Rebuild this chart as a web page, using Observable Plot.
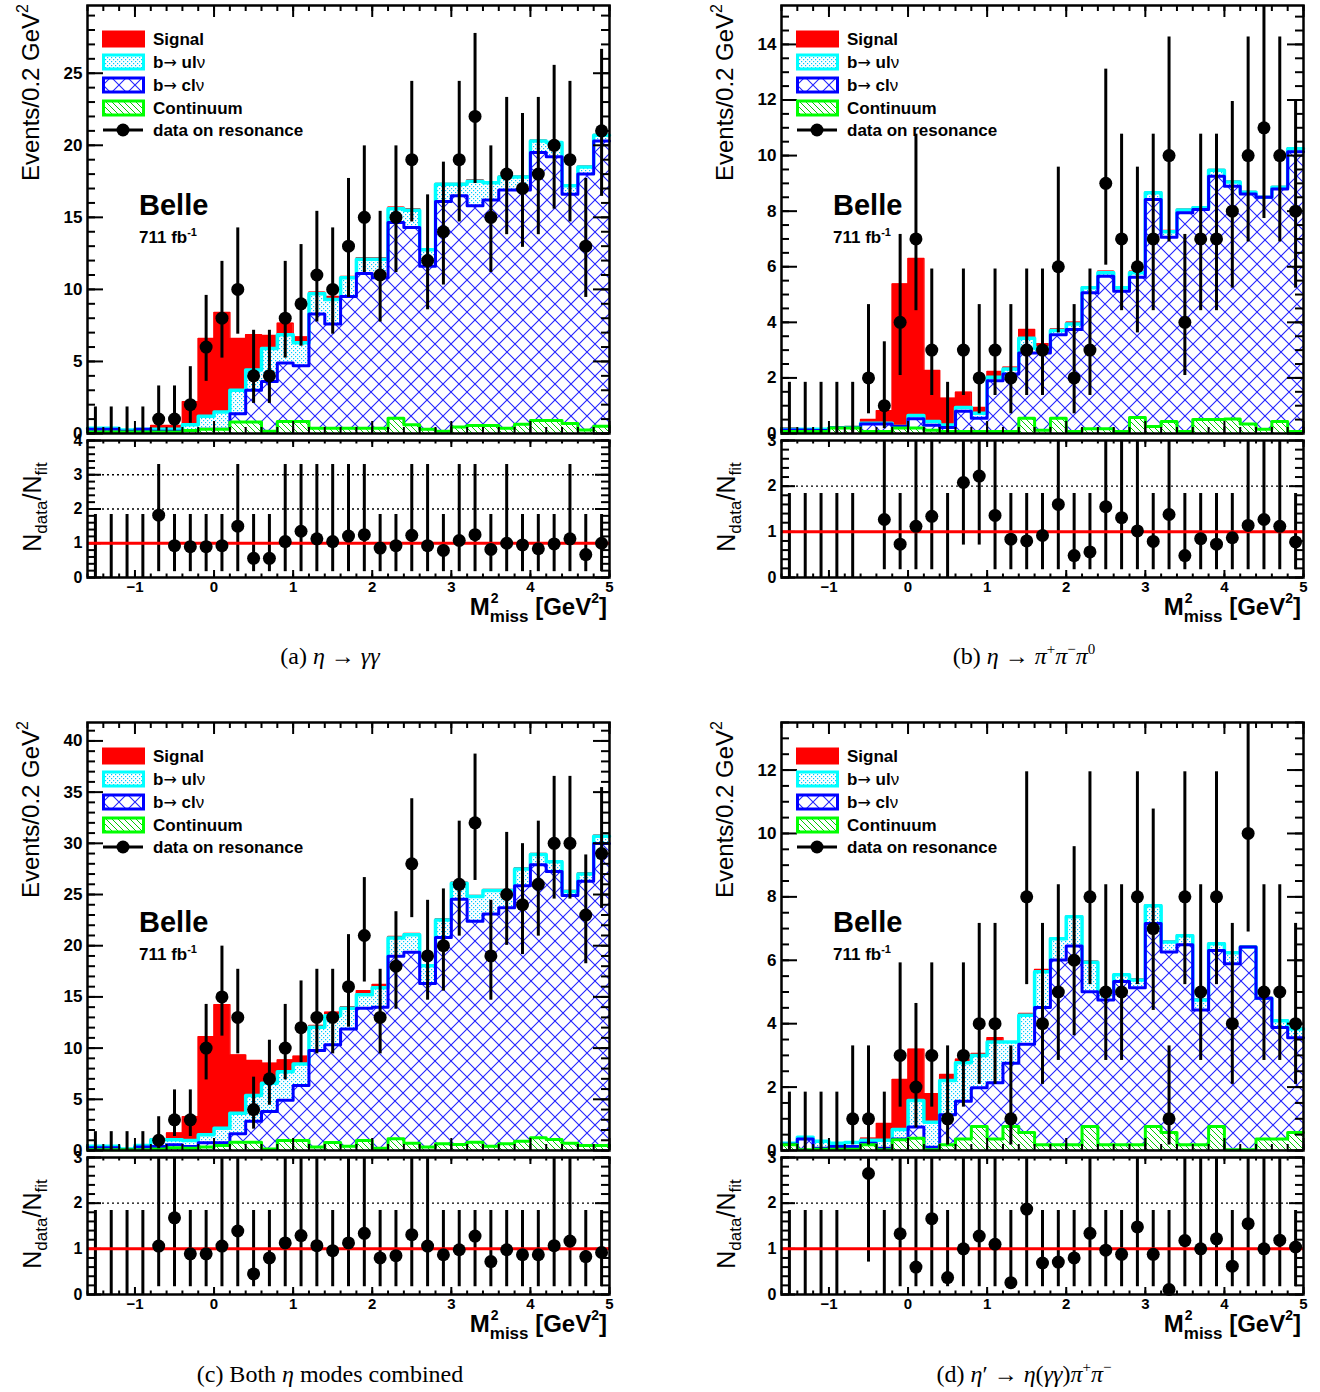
<!DOCTYPE html>
<html><head><meta charset="utf-8"><title>Belle M2miss fits</title>
<script src="https://cdn.jsdelivr.net/npm/d3@7"></script>
<script src="https://cdn.jsdelivr.net/npm/@observablehq/plot@0.6"></script>
<style>
html,body{margin:0;padding:0;background:#fff;}
#root{position:relative;width:1320px;height:1392px;overflow:hidden;background:#fff;}
.t{position:absolute;white-space:nowrap;font-family:'Liberation Sans',Arial,Helvetica,sans-serif;color:#000;}
.ytitle{font-size:24px;line-height:30px;height:30px;width:300px;text-align:right;transform-origin:0 0;transform:rotate(-90deg);}
.rtitle{font-size:25px;line-height:30px;height:30px;width:200px;text-align:center;transform-origin:0 0;transform:rotate(-90deg);}
.xtitle{font-size:24px;line-height:24px;font-weight:bold;width:400px;text-align:right;}
.belle{font-size:29px;line-height:29px;font-weight:bold;}
.lumi{font-size:17px;line-height:17px;font-weight:bold;}
.cap{font-family:'Liberation Serif','Times New Roman',serif;font-size:24px;line-height:30px;height:30px;width:600px;text-align:center;}
.cap sup{font-size:15px;line-height:0;vertical-align:10px;}
.ss{display:inline-block;position:relative;font-size:17px;line-height:17px;vertical-align:-7px;}
.ss .sp{position:absolute;left:1px;top:-17px;font-size:14px;line-height:14px;}
</style></head>
<body>
<svg width="0" height="0" style="position:absolute;left:0;top:0">
<defs>
<pattern id="patCl" patternUnits="userSpaceOnUse" width="16" height="16">
<path d="M-2,-2L18,18M18,-2L-2,18" stroke="#2222ff" stroke-width="1.1" fill="none"/>
</pattern>
<pattern id="patUl" patternUnits="userSpaceOnUse" width="4" height="4">
<rect x="0" y="0" width="1.2" height="1.2" fill="#00c8ff"/>
<rect x="2" y="2" width="1.2" height="1.2" fill="#00c8ff"/>
</pattern>
<pattern id="patCont" patternUnits="userSpaceOnUse" width="6" height="6">
<path d="M-1,-1L7,7M-1,5L1,7M5,-1L7,1" stroke="#00cc00" stroke-width="1" fill="none"/>
</pattern>
</defs>
</svg>
<div id="root"></div>
<script>
// ---------- bins ----------
const binEdges = [-1.6,-1.4,-1.2,-1.0,-0.8,-0.6,-0.4,-0.2,0.0,0.2,0.4,0.6,0.8,1.0,1.2,1.4,1.6,1.8,2.0,2.2,2.4,2.6,2.8,3.0,3.2,3.4,3.6,3.8,4.0,4.2,4.4,4.6,4.8,5.0];
const binCenter = [-1.5,-1.3,-1.1,-0.9,-0.7,-0.5,-0.3,-0.1,0.1,0.3,0.5,0.7,0.9,1.1,1.3,1.5,1.7,1.9,2.1,2.3,2.5,2.7,2.9,3.1,3.3,3.5,3.7,3.9,4.1,4.3,4.5,4.7,4.9];
const xTickLabels = [-1,0,1,2,3,4,5];

// ---------- (a) eta -> gamma gamma ----------
const aData = [0,0,0,0,1,1,2,6,8,10,4,4,8,9,11,10,13,15,11,15,19,12,14,19,22,15,18,17,18,20,19,13,21];
const aCont = [0.1,0.1,0.1,0.1,0.1,0.1,0.2,0.3,0.3,0.8,0.8,0.15,0.83,0.83,0.37,0.37,0.37,0.37,0.37,1.06,0.6,0.3,0.15,0.45,0.55,0.55,0.37,0.65,0.9,0.9,0.7,0.25,0.5];
const aCl = [0.2,0.2,0.05,0.2,0.05,0.05,0,0,0,0.57,2.2,3.45,4.07,3.87,7.93,7.23,9.13,10.73,10.43,13.59,13.7,11.3,15.95,16.05,15.25,15.65,16.53,16.25,18.6,18.3,15.9,17.75,19.8];
const aUl = [0.07,0.07,0.1,0,0.15,0.15,0.4,0.9,1.2,1.63,1.4,2.3,1.95,1.6,1.4,1.7,1.3,1.0,1.3,0.95,1.2,1.15,1.2,0.8,1.7,1.2,0.9,0.9,0.8,1.0,0.6,0.5,0.4];
const aSig = [0,0,0,0,0.25,0.25,1.6,5.4,6.9,3.6,2.45,0.9,0.8,0.4,0.1,0.2,0.1,0.1,0.1,0.1,0.1,0.05,0.05,0.05,0.1,0.05,0.05,0.05,0.05,0.05,0.05,0.05,0.05];
const aRatio = [null,null,null,null,1.82,0.93,0.9,0.9,0.93,1.5,0.56,0.56,1.05,1.35,1.13,1.05,1.21,1.25,0.86,0.93,1.23,0.93,0.79,1.08,1.25,0.82,1.0,0.95,0.84,0.98,1.13,0.67,1.0];
const aRatioBar = "eeeebaaaabaabbbbbbaabbabbabaaabaa";

// ---------- (b) eta -> pi+ pi- pi0 ----------
const bData = [0,0,0,0,0,2,1,4,7,3,0,3,2,3,2,3,3,6,2,3,9,7,6,7,10,4,7,7,8,10,11,10,8];
const bCont = [0.07,0.07,0.07,0.2,0.2,0.07,0.07,0.2,0.2,0.12,0.07,0.07,0.07,0.07,0.07,0.55,0.12,0.55,0.07,0.17,0.17,0.07,0.58,0.25,0.43,0.07,0.5,0.5,0.52,0.34,0.15,0.43,0.07];
const bCl = [0.06,0.06,0.04,0,0,0.27,0.27,0.05,0.33,0.18,0.15,0.73,0.48,1.83,2.07,2.35,2.78,3.0,3.67,4.89,5.49,5.05,5.04,8.17,6.63,7.87,7.56,8.76,8.38,8.28,8.35,8.37,10.07];
const bUl = [0.02,0.02,0.04,0,0.02,0.03,0.03,0,0.12,0.13,0.09,0.14,0.18,0.12,0.18,0.53,0.17,0.16,0.2,0.18,0.12,0.12,0.16,0.24,0.2,0.1,0.06,0.21,0.15,0.06,0,0.06,0.11];
const bSig = [0.05,0.01,0,0.04,0.03,0.13,0.45,5.13,5.65,1.84,0.96,0.54,0.21,0.21,0.06,0.31,0.16,0.05,0.06,0.03,0.06,0.03,0.06,0.04,0.04,0.03,0.03,0.03,0.03,0.03,0.03,0.03,0.03];
const bRatio = [null,null,null,null,null,null,1.27,0.73,1.12,1.34,null,2.08,2.22,1.36,0.84,0.8,0.92,1.6,0.48,0.56,1.55,1.31,1.02,0.79,1.38,0.48,0.85,0.73,0.87,1.14,1.27,1.12,0.78];
const bRatioBar = "eeeeenbabbeccbaaabaabbbabaaaabbba";

// ---------- (c) both eta modes ----------
const cData = [0,0,0,0,1,3,3,10,15,13,4,7,10,12,13,13,16,21,13,18,28,19,20,26,32,19,25,24,26,30,30,23,29];
const cCont = [0.07,0.07,0.07,0.07,0.15,0.26,0.23,0.33,0.5,0.8,0.8,0.15,0.98,0.98,0.33,0.78,0.42,0.98,0.23,1.14,0.72,0.33,0.65,0.59,0.81,0.42,0.65,0.91,1.24,1.07,0.72,0.49,0.49];
const cCl = [0.19,0.19,0.03,0.26,0.25,0.29,0.17,0.42,0.25,0.83,2.06,3.65,3.92,5.36,9.43,9.56,11.45,12.92,13.77,17.82,18.63,15.97,20.15,23.96,21.59,22.68,23.05,24.94,26.66,26.18,24.18,25.81,29.49];
const cUl = [0.16,0.16,0.05,0.15,0.64,0.49,0.58,0.78,1.43,2.01,2.51,2.77,2.8,2.11,2.27,2.83,2.03,1.3,1.9,1.79,1.72,1.75,1.7,1.55,2.4,2.3,1.7,1.65,1.0,0.95,0.4,0.7,0.72];
const cSig = [0,0,0,0,0.1,0.66,2.32,9.57,12.06,5.69,3.41,1.95,1.15,0.75,0.17,0.33,0.15,0.4,0.3,0.15,0.13,0.1,0.1,0.1,0.1,0.1,0.1,0.1,0.1,0.1,0.1,0.1,0.1];
const cRatio = [null,null,null,null,1.06,1.68,0.89,0.89,1.06,1.39,0.45,0.8,1.13,1.29,1.07,0.96,1.13,1.34,0.8,0.85,1.31,1.06,0.87,0.98,1.28,0.72,0.98,0.87,0.87,1.07,1.17,0.83,0.92];
const cRatioBar = "eeeebbaabbaabbbabbaabbaaaaaaabbaa";

// ---------- (d) eta' -> eta(gg) pi+ pi- ----------
const dData = [0,0,0,0,1,1,0,3,2,3,1,3,4,4,1,8,4,5,6,8,5,5,8,7,1,8,5,8,4,10,5,5,4];
const dCont = [0.18,0.02,0.04,0.04,0.04,0.18,0.02,0.34,0.39,0.02,0.18,0.36,0.76,0.36,0.76,0.57,0.18,0.18,0.18,0.76,0.18,0.18,0.18,0.76,0.57,0.18,0.18,0.76,0.02,0.02,0.36,0.36,0.57];
const dCl = [0.02,0.34,0.03,0.09,0.09,0.05,0.05,0.02,0.35,0.08,0.95,1.19,1.22,1.78,1.99,2.78,4.33,5.83,6.27,4.25,4.57,5.15,4.95,6.4,5.69,6.31,4.25,5.55,5.87,6.4,4.44,3.52,2.99];
const dUl = [0.03,0.06,0.22,0.1,0.12,0.09,0.25,0.3,0.84,0.79,1.08,1.22,1.02,1.28,0.67,0.92,1.13,0.67,0.92,0.93,0.26,0.21,0.25,0.56,0.32,0.28,0.32,0.21,0.35,0,0,0.21,0.27];
const dSig = [0,0,0,0,0.02,0.07,0.53,1.58,1.61,0.9,0.19,0.11,0.06,0.14,0,0.05,0.07,0.03,0.03,0.03,0.04,0.02,0.03,0.03,0.02,0.03,0.02,0.03,0.03,0.03,0.03,0.03,0.03];
const dRatio = [null,null,null,null,null,2.65,null,1.33,0.6,1.66,0.37,1.0,1.28,1.1,0.26,1.87,0.69,0.71,0.8,1.34,0.97,0.88,1.48,0.88,0.11,1.18,1.0,1.22,0.62,1.55,1.0,1.19,1.04];
const dRatioBar = "eeeencebbbabbbabaaabaabaebbbabbba";

// ratio-panel error-bar extents as drawn (e: empty bin, a/b/c: lower..upper)
const ratioBarLevels = {e:[0,1.84], a:[0.17,1.84], b:[0.17,3.30], c:[0.71,4.64]};

// ---------- panel layout ----------
const panels = [
  {data:aData, cont:aCont, cl:aCl, ul:aUl, sig:aSig, ratio:aRatio, rbar:aRatioBar, ymax:29.7, yMajorStep:5, yMinorStep:1, rmax:4,
   fx:87, ty:5, ry:440, capX:330, capY:656, caption:'(a) <i>η</i> → <i>γγ</i>'},
  {data:bData, cont:bCont, cl:bCl, ul:bUl, sig:bSig, ratio:bRatio, rbar:bRatioBar, ymax:15.4, yMajorStep:2, yMinorStep:0.5, rmax:3,
   fx:781, ty:5, ry:440, capX:1024, capY:656, caption:'(b) <i>η</i> → <i>π</i><sup>+</sup><i>π</i><sup>−</sup><i>π</i><sup>0</sup>'},
  {data:cData, cont:cCont, cl:cCl, ul:cUl, sig:cSig, ratio:cRatio, rbar:cRatioBar, ymax:41.8, yMajorStep:5, yMinorStep:1, rmax:3,
   fx:87, ty:722, ry:1157, capX:330, capY:1374, caption:'(c) Both <i>η</i> modes combined'},
  {data:dData, cont:dCont, cl:dCl, ul:dUl, sig:dSig, ratio:dRatio, rbar:dRatioBar, ymax:13.5, yMajorStep:2, yMinorStep:0.5, rmax:3,
   fx:781, ty:722, ry:1157, capX:1024, capY:1374, caption:'(d) <i>η</i>′ → <i>η</i>(<i>γγ</i>)<i>π</i><sup>+</sup><i>π</i><sup>−</sup>'}
];

const FONT = "'Liberation Sans', Arial, Helvetica, sans-serif";
const W = 522, TH = 428, RH = 137, ML = 60, MR = 15;
const root = document.getElementById("root");
const fmtInt = d => (d < 0 ? "\u2212" + Math.abs(d) : String(d));

// Garwood (central 68.27%) Poisson interval for a count n
function poisCdf(k, lam) { let term = Math.exp(-lam), s = term; for (let j = 1; j <= k; j++) { term *= lam / j; s += term; } return s; }
function garwood(n) {
  const a = (1 - 0.682689492) / 2;
  let lo = 0;
  if (n > 0) { let L = 0, H = n + 10 * Math.sqrt(n) + 10; for (let it = 0; it < 80; it++) { const m = (L + H) / 2; if (poisCdf(n - 1, m) > 1 - a) L = m; else H = m; } lo = (L + H) / 2; }
  let L = 0, H = n + 10 * Math.sqrt(n) + 10; for (let it = 0; it < 80; it++) { const m = (L + H) / 2; if (poisCdf(n, m) > a) L = m; else H = m; }
  return [lo, (L + H) / 2];
}

function steps(lo, hi, step) { const n = Math.round((hi - lo) / step); return d3.range(n + 1).map(k => +(lo + k * step).toFixed(4)); }

function tickMarks(xMajor, xMinor, yMajor, yMinor, innerH, xMaj, xMin, yMaj, yMin) {
  const s = {stroke: "black", strokeWidth: 2};
  return [
    Plot.ruleX(xMinor, {x: d => d, insetTop: innerH - xMin, ...s}),
    Plot.ruleX(xMinor, {x: d => d, insetBottom: innerH - xMin, ...s}),
    Plot.ruleX(xMajor, {x: d => d, insetTop: innerH - xMaj, ...s}),
    Plot.ruleX(xMajor, {x: d => d, insetBottom: innerH - xMaj, ...s}),
    Plot.ruleY(yMinor, {y: d => d, insetRight: W - yMin, ...s}),
    Plot.ruleY(yMinor, {y: d => d, insetLeft: W - yMin, ...s}),
    Plot.ruleY(yMajor, {y: d => d, insetRight: W - yMaj, ...s}),
    Plot.ruleY(yMajor, {y: d => d, insetLeft: W - yMaj, ...s})
  ];
}

function place(el, left, top) { el.style.position = "absolute"; el.style.left = left + "px"; el.style.top = top + "px"; root.appendChild(el); }
function div(cls, html, left, top) { const e = document.createElement("div"); e.className = "t " + cls; e.innerHTML = html; place(e, left, top); return e; }

const xMinor = steps(-1.6, 5.0, 0.2);

panels.forEach(P => {
  // stacked histogram levels
  const rows = binEdges.map((x, k) => {
    const i = Math.min(k, 32);
    const g = P.cont[i], b = g + P.cl[i], c = b + P.ul[i], r = c + P.sig[i];
    return {x, g, b, c, r};
  });
  const pts = binCenter.map((x, i) => { const n = P.data[i]; const [lo, hi] = garwood(n); return {x, n, lo, hi}; });
  const yMajor = steps(0, Math.floor(P.ymax / P.yMajorStep) * P.yMajorStep, P.yMajorStep);
  const yMinor = steps(0, Math.floor(P.ymax / P.yMinorStep) * P.yMinorStep, P.yMinorStep);
  const MT = 5, MB = 10;
  const st = {x: "x", curve: "step-after"};
  const top = Plot.plot({
    width: ML + W + MR, height: MT + TH + MB, marginLeft: ML, marginRight: MR, marginTop: MT, marginBottom: MB,
    x: {domain: [-1.6, 5], axis: null},
    y: {domain: [0, P.ymax], label: null},
    style: {fontFamily: FONT, fontWeight: "bold", fontSize: "17px", overflow: "visible", background: "transparent"},
    marks: [
      Plot.areaY(rows, {...st, y1: 0, y2: "r", fill: "#ff0000"}),
      Plot.lineY(rows, {...st, y: "r", stroke: "#ff0000", strokeWidth: 1.5}),
      Plot.areaY(rows, {...st, y1: 0, y2: "c", fill: "white"}),
      Plot.areaY(rows, {...st, y1: "b", y2: "c", fill: "url(#patUl)"}),
      Plot.lineY(rows, {...st, y: "c", stroke: "#00ffff", strokeWidth: 3.5}),
      Plot.areaY(rows, {...st, y1: 0, y2: "b", fill: "url(#patCl)"}),
      Plot.lineY(rows, {...st, y: "b", stroke: "#0000ff", strokeWidth: 3}),
      Plot.areaY(rows, {...st, y1: 0, y2: "g", fill: "white"}),
      Plot.areaY(rows, {...st, y1: 0, y2: "g", fill: "url(#patCont)"}),
      Plot.lineY(rows, {...st, y: "g", stroke: "#00ff00", strokeWidth: 3}),
      ...tickMarks(xTickLabels, xMinor, yMajor, yMinor, TH, 12, 6, 16, 8),
      Plot.frame({stroke: "black", strokeWidth: 2.5}),
      Plot.ruleX(pts, {x: "x", y1: "lo", y2: "hi", stroke: "black", strokeWidth: 3, clip: true}),
      Plot.dot(pts.filter(d => d.n > 0), {x: "x", y: "n", r: 6.5, fill: "black"}),
      Plot.axisY({ticks: yMajor, tickSize: 0, tickPadding: 5, label: null, tickFormat: fmtInt, fontSize: 17, fontWeight: "bold"})
    ]
  });
  place(top, P.fx - ML, P.ty - MT);

  // ratio panel
  const RMT = 5, RMB = 30;
  const rpts = binCenter.map((x, i) => ({x, r: P.ratio[i], code: P.rbar[i]}));
  const bars = rpts.filter(d => ratioBarLevels[d.code]).map(d => ({x: d.x, lo: ratioBarLevels[d.code][0], hi: ratioBarLevels[d.code][1]}));
  const rMajor = steps(0, P.rmax, 1);
  const rMinor = steps(0, P.rmax, 0.2);
  const ratio = Plot.plot({
    width: ML + W + MR, height: RMT + RH + RMB, marginLeft: ML, marginRight: MR, marginTop: RMT, marginBottom: RMB,
    x: {domain: [-1.6, 5], label: null},
    y: {domain: [0, P.rmax], label: null},
    style: {fontFamily: FONT, fontWeight: "bold", fontSize: "15px", overflow: "visible", background: "transparent"},
    marks: [
      Plot.ruleY([2, 3].filter(v => v < P.rmax), {y: d => d, stroke: "black", strokeWidth: 1.3, strokeDasharray: "2,3"}),
      ...tickMarks(xTickLabels, xMinor, rMajor, rMinor, RH, 7, 3.5, 14, 8),
      Plot.ruleX(bars, {x: "x", y1: "lo", y2: "hi", stroke: "black", strokeWidth: 3, clip: true}),
      Plot.ruleY([1], {y: d => d, stroke: "#ff0000", strokeWidth: 3}),
      Plot.frame({stroke: "black", strokeWidth: 2.5}),
      Plot.dot(rpts.filter(d => d.r != null), {x: "x", y: "r", r: 6.5, fill: "black"}),
      Plot.axisX({ticks: xTickLabels, tickSize: 0, tickPadding: 4, label: null, tickFormat: fmtInt, fontSize: 15, fontWeight: "bold"}),
      Plot.axisY({ticks: rMajor, tickSize: 0, tickPadding: 5, label: null, tickFormat: fmtInt, fontSize: 16, fontWeight: "bold"})
    ]
  });
  place(ratio, P.fx - ML, P.ry - RMT);

  // legend
  const dx = P.fx - 87, dy = P.ty - 5;
  const ly = [34, 57, 80, 103, 125];
  const arrow = '<tspan font-family="DejaVu Sans" font-weight="normal" font-size="16">→</tspan>';
  const txt = (y, s) => `<text x="66" y="${y + 6}" font-family="${FONT.replace(/'/g, "")}" font-weight="bold" font-size="17">${s}</text>`;
  const leg = `<svg xmlns="http://www.w3.org/2000/svg" width="260" height="140" style="overflow:visible">
    <rect x="16.5" y="${ly[0]-7}" width="40" height="14" fill="#ff0000" stroke="#ff0000" stroke-width="3"/>
    <rect x="16.5" y="${ly[1]-7}" width="40" height="14" fill="white"/>
    <rect x="16.5" y="${ly[1]-7}" width="40" height="14" fill="url(#patUl)" stroke="#00ffff" stroke-width="3"/>
    <rect x="16.5" y="${ly[2]-7}" width="40" height="14" fill="white"/>
    <rect x="16.5" y="${ly[2]-7}" width="40" height="14" fill="url(#patCl)" stroke="#0000ff" stroke-width="3"/>
    <rect x="16.5" y="${ly[3]-7}" width="40" height="14" fill="white"/>
    <rect x="16.5" y="${ly[3]-7}" width="40" height="14" fill="url(#patCont)" stroke="#00ff00" stroke-width="3"/>
    <line x1="16" x2="56" y1="${ly[4]}" y2="${ly[4]}" stroke="black" stroke-width="3"/>
    <circle cx="36" cy="${ly[4]}" r="6.5" fill="black"/>
    ${txt(ly[0], "Signal")}
    ${txt(ly[1], 'b' + arrow + ' ul<tspan font-weight="normal">ν</tspan>')}
    ${txt(ly[2], 'b' + arrow + ' cl<tspan font-weight="normal">ν</tspan>')}
    ${txt(ly[3], "Continuum")}
    ${txt(ly[4], "data on resonance")}
  </svg>`;
  const lw = document.createElement("div"); lw.innerHTML = leg; lw.style.width = "260px"; lw.style.height = "140px";
  place(lw, P.fx, P.ty);

  // texts
  div("belle", "Belle", P.fx + 52, 190.5 + dy);
  div("lumi", '711 fb<span style="font-size:11px;vertical-align:7px">-1</span>', P.fx + 52, 223.5 + dy);
  div("ytitle", 'Events/0.2 GeV<span style="font-size:16px;vertical-align:11px">2</span>', 8 + dx, 304 + dy);
  div("rtitle", 'N<span style="font-size:17px;vertical-align:-6px">data</span>/N<span style="font-size:17px;vertical-align:-6px">fit</span>', 17 + dx, P.ry + 66.5 + 100);
  div("xtitle", 'M<span class="ss"><span class="sp">2</span>miss</span> [GeV<span style="font-size:14px;vertical-align:12px">2</span>]', P.fx + 522 - 402, P.ry + 146);
  div("cap", P.caption, P.capX - 300, P.capY - 15);
});
</script>
</body></html>
